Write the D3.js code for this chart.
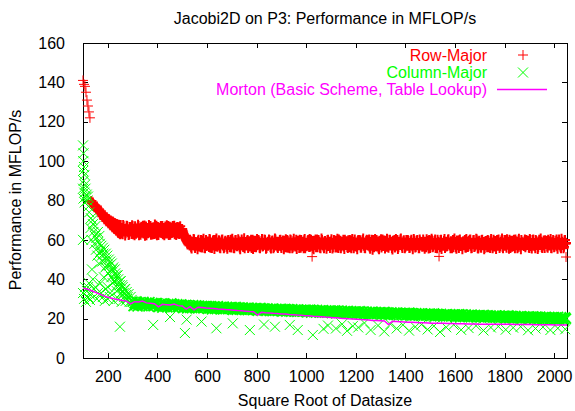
<!DOCTYPE html>
<html><head><meta charset="utf-8">
<script src="https://cdn.jsdelivr.net/npm/d3@7"></script>
<style>
body{margin:0;background:#fff}
svg{display:block}
text{font-family:"Liberation Sans",Arial,Helvetica,sans-serif}
</style>
</head><body>
<svg id="c" width="575" height="411"></svg>
<script>
// ---------------- data ----------------
const titleText = "Jacobi2D on P3: Performance in MFLOP/s";
const xLabel = "Square Root of Datasize";
const yLabel = "Performance in MFLOP/s";
const seriesNames = ["Row-Major", "Column-Major", "Morton (Basic Scheme, Table Lookup)"];
const xTicks = [200,400,600,800,1000,1200,1400,1600,1800,2000];
const yTicks = [0,20,40,60,80,100,120,140,160];

// problem sizes for the point series: 100, 104, ... 2048
const sizeStart = 100, sizeStep = 4;

const rowMajor = [
141,139,138,135,131,128,125,122,
79.5,78.8,79.0,77.8,77.6,76.5,76.9,75.2,75.6,74.1,74.5,72.8,73.2,71.2,72.3,70.4,71.5,69.2,70.6,68.0,69.8,67.1,69.3,66.0,68.6,65.2,68.1,64.0,67.7,63.1,
67.5,64.5,62.8,66.9,65.1,63.4,67.2,64.2,62.5,66.5,65.6,63.0,67.0,64.8,62.4,66.2,65.3,63.6,67.1,64.0,62.6,66.7,65.0,63.2,67.3,64.6,62.3,66.0,65.4,63.8,67.0,64.3,62.7,66.4,65.7,63.1,67.2,64.9,62.5,66.1,65.2,63.5,67.1,64.1,62.4,66.8,65.5,63.3,67.0,64.7,62.6,66.3,65.0,63.7,67.2,64.4,62.5,66.6,65.3,63.0,66.9,64.5,
65.5,63.8,62.4,61.2,60.0,59.0,58.2,
58.2,60.1,56.3,59.0,57.4,60.2,55.9,58.8,57.0,59.6,56.6,58.0,60.0,56.1,59.3,57.7,55.8,59.9,57.2,58.5,
56.4,60.2,58.1,55.9,59.4,57.5,60.0,56.8,58.7,57.1,59.8,56.0,58.4,60.1,57.3,55.8,59.1,57.9,56.5,59.7,
58.0,56.2,60.1,57.6,59.2,55.9,58.6,60.0,56.7,57.8,59.5,56.1,58.3,60.2,57.0,59.0,55.8,58.9,57.4,60.0,
56.9,59.3,57.7,55.9,60.1,58.2,56.4,59.6,57.1,58.8,60.0,56.0,57.9,59.4,56.6,58.5,60.2,57.3,55.9,59.0,
57.8,60.0,56.2,58.6,59.7,55.8,57.5,60.2,58.3,56.5,59.1,57.0,60.1,55.9,58.9,57.6,59.5,56.3,58.1,60.0,
56.0,58.7,60.2,57.2,55.8,59.3,58.0,56.6,60.1,57.7,59.0,55.9,58.4,60.0,56.8,57.4,59.8,55.8,58.6,57.1,
59.9,56.4,58.2,60.1,57.0,55.9,59.5,58.8,56.2,60.2,57.6,59.1,56.0,58.3,60.0,57.3,55.8,59.4,58.0,56.7,
60.1,57.5,55.9,59.2,58.4,56.3,60.0,57.9,59.6,56.1,58.7,60.2,57.1,55.8,59.0,58.2,56.6,60.1,57.4,59.3,
55.9,58.5,60.0,56.9,59.7,57.2,55.8,60.2,58.1,56.4,59.4,57.8,60.0,56.0,58.8,59.9,57.0,55.9,58.3,60.1,
57.3,59.8,56.2,58.9,60.1,55.0,57.7,59.2,56.8,60.0,58.4,55.8,59.6,57.5,56.1,60.2,58.0,57.1,59.5,56.5,
58.6,56.0,60.1,57.9,59.1,55.1,58.3,60.0,56.7,57.4,59.9,56.2,58.9,60.2,57.6,55.9,59.3,58.1,56.4,60.0,
57.0,59.5,55.9,58.2,60.1,56.8,57.9,59.7,56.1,58.6,60.0,57.3,55.8,59.2,58.4,56.5,60.2,57.7,59.0,56.2,
59.4,57.2,60.0,55.9,58.7,59.8,56.6,57.5,60.2,58.0,55.8,59.1,57.8,56.3,60.1,58.5,57.0,59.6,55.9,58.2,
56.7,60.1,58.4,57.1,59.3,55.8,60.0,57.6,58.9,56.2,59.7,57.4,55.9,60.2,58.1,56.9,59.0,57.3,60.0,56.0,
58.8,56.4,59.5,60.1,57.0,55.9,58.3,59.9,56.6,57.8,60.2,55.8,59.2,58.0,56.1,60.0,57.5,58.6,55.9,59.4,
57.9,60.0,56.3,58.5,59.6,57.2,55.8,60.1,58.2,56.8,59.3,57.0,60.2,55.9,58.7,59.8,56.5,57.6,60.0,58.1,
56.0,59.0,57.7,60.1,55.9,58.4,59.5,56.7,57.3,60.2,58.9,55.8,59.7,57.1,56.4,60.0,58.3,57.8,59.2,56.2,
60.0,57.4,58.6,55.9,59.9,56.9,58.0,60.2,57.0,55.8,59.4,58.7,56.3,60.1,57.6,59.1,55.9,58.5,57.2,59.8,
58.1,56.6,60.1,57.5,59.3,55.9,58.8,60.0,56.2,57.9,59.6,56.8,58.4,60.2,57.1,55.8,59.0,58.2,56.5,60.0,
58.4
];
// interleaved Row-Major sizes 134, 138, ... 2046
const rowMajor2Start = 134;
const rowMajor2 = [
79.8,78.6,78.2,77.0,77.3,75.8,76.2,74.6,75.0,73.4,73.8,72.0,72.6,70.6,71.8,69.6,70.9,68.4,70.2,67.4,69.5,66.4,68.9,65.5,68.3,64.6,67.9,63.5,67.6,62.8,
66.0,63.3,67.6,64.9,62.2,65.8,67.0,63.9,62.7,66.6,64.3,67.4,62.9,65.5,66.9,63.1,64.6,67.7,62.4,65.9,
66.3,63.6,67.2,64.0,62.1,66.8,65.1,63.4,67.5,64.7,62.6,66.1,65.6,63.0,67.8,64.2,62.3,66.5,65.3,63.8,
67.1,64.5,62.8,66.0,65.0,63.2,67.4,64.8,62.5,66.7,65.4,63.5,67.0,64.1,62.9,66.2,65.7,63.3,66.4,64.4,
63.9,62.9,
64.6,63.0,61.8,60.6,59.4,58.6,57.6,
57.1,59.4,55.6,58.3,60.5,56.7,58.9,57.5,55.3,60.1,58.0,56.2,59.7,57.8,60.6,55.9,58.5,56.9,59.2,57.3,
60.4,56.0,58.7,57.2,59.9,55.4,58.1,60.7,56.5,57.6,59.3,55.8,58.4,60.2,57.0,56.3,59.6,58.8,55.5,60.0,
57.4,59.1,56.1,60.6,58.2,55.7,59.8,57.7,56.8,60.3,58.6,55.2,59.0,57.9,56.4,60.8,58.3,57.1,59.5,55.9,
58.9,56.6,60.1,57.3,55.4,59.6,58.0,56.2,60.5,57.5,59.2,55.8,58.6,60.4,56.9,57.8,59.9,55.5,58.4,57.0,
60.2,57.6,55.6,59.3,58.1,56.4,60.7,57.2,59.0,55.9,58.7,60.0,56.7,57.4,59.7,55.3,58.2,60.3,56.1,59.4,
57.9,55.7,59.8,58.5,56.3,60.6,57.1,58.8,55.4,59.5,57.7,60.1,56.0,58.3,59.1,55.8,60.4,57.3,56.8,59.6,
58.0,60.5,56.5,57.6,59.4,55.2,58.9,60.2,57.0,56.2,59.9,58.4,55.7,60.7,57.8,56.6,59.2,58.1,55.5,60.0,
56.9,59.0,57.5,60.3,55.6,58.6,59.7,56.1,57.9,60.6,55.9,58.2,59.5,56.7,57.3,60.1,55.4,58.8,59.3,56.4,
59.8,56.2,58.3,55.7,60.4,57.4,59.1,56.8,58.7,55.3,60.0,57.6,59.6,56.0,58.5,60.7,57.2,55.8,59.4,58.0,
57.7,60.2,55.5,58.9,57.0,59.9,56.3,60.5,58.1,56.6,59.2,55.2,57.5,60.3,58.6,56.9,59.7,55.6,58.4,60.6,
56.5,58.0,60.1,57.3,55.9,59.5,58.8,56.1,60.4,57.8,55.4,59.0,58.2,60.7,56.7,57.6,59.8,55.7,58.5,57.1,
60.0,57.4,56.0,59.3,58.6,55.3,60.5,57.9,56.4,59.6,58.1,55.8,60.2,57.2,58.9,56.6,59.1,55.5,57.7,60.3,
58.3,55.6,59.7,57.5,60.6,56.2,58.0,59.4,55.9,57.1,60.1,58.7,56.8,59.9,55.4,58.4,57.3,60.4,56.5,59.0,
57.0,60.3,58.5,55.7,59.2,57.8,56.3,60.7,58.1,55.5,59.6,57.4,60.0,56.9,58.8,55.2,59.3,57.6,56.1,60.5,
59.1,56.7,57.9,60.2,55.8,58.6,59.8,56.4,57.2,60.6,58.3,55.6,59.5,57.7,56.0,60.1,58.9,55.3,59.0,57.5,
56.2,59.7,58.1,55.9,60.4,57.3,58.7,56.6,59.4,55.4,60.0,57.8,58.4,56.8,59.1,60.7,55.7,58.2,57.0,59.9,
60.3,57.6,55.5,58.8,59.6,56.5,57.4,60.1,55.8,59.3,58.0,56.3,60.6,57.9,55.2,59.0,58.5,56.9,60.2,57.1,
57.8,59.5,56.1,60.4,58.3,55.6,59.9,57.2,56.7,60.0,58.6,55.4,59.2,57.5,60.7,56.4,58.1,59.7,55.9,58.9,
59.4,56.0,58.7,57.1,60.5,55.8,58.2,59.6,56.6,57.7,60.2,55.5,59.0,58.4,56.3,60.6,57.4,55.7,59.8,58.0
];
const rowOutX = [1024, 1536, 2048];
const rowOutY = [51.5, 51.6, 51.3];

const colMajor = [
33,30,36,28.5,34,31,38,29.5,
71,45,68,35,62,55,30,64,48,58,33,52,56,41,29,53,47,36,50,31,44,48,38,29,45,40,34,42,30,37,39,28.5,36,33,35,29,33.5,31,32.5,28.5,31,29.5,
28.6,26.4,27.9,26.9,28.8,26.2,27.4,28.3,26.7,27.8,26.3,28.5,27.1,26.5,28.1,27.6,26.2,28.4,26.9,27.3,28.0,26.4,27.7,26.8,27.9,
27.9,25.8,27.2,26.4,27.6,25.6,26.9,27.8,26.1,27.0,25.7,27.5,26.6,26.0,27.7,26.3,25.8,27.4,26.5,26.9,27.3,25.9,27.0,26.2,27.2,
26.9,25.3,26.6,25.8,27.0,25.2,26.2,26.8,25.5,26.4,25.3,26.9,25.9,25.4,26.7,26.0,25.2,26.6,25.7,26.1,26.5,25.3,26.3,25.6,26.4,
26.3,24.9,26.0,25.2,26.4,24.7,25.6,26.2,25.0,25.8,24.8,26.3,25.4,24.9,26.0,25.5,24.7,26.1,25.1,25.5,25.9,24.8,25.7,25.0,25.8,
25.8,24.5,25.5,24.7,25.9,24.4,25.1,25.7,24.6,25.3,24.4,25.7,24.9,24.5,25.5,25.0,24.3,25.6,24.7,25.0,25.4,24.3,25.2,24.6,25.3,
25.3,24.0,25.0,24.3,25.4,23.9,24.6,25.2,24.1,24.8,23.9,25.2,24.4,24.0,25.0,24.5,23.8,25.1,24.2,24.5,24.9,23.9,24.7,24.1,24.8,
24.9,23.6,24.6,23.9,25.0,23.5,24.2,24.8,23.7,24.4,23.5,24.8,24.0,23.6,24.6,24.1,23.4,24.7,23.8,24.1,24.5,23.5,24.3,23.7,24.4,
24.5,23.2,24.2,23.5,24.6,23.1,23.8,24.4,23.3,24.0,23.1,24.4,23.6,23.2,24.2,23.7,23.0,24.3,23.4,23.7,24.1,23.1,23.9,23.3,24.0,
24.1,22.8,23.8,23.1,24.2,22.7,23.4,24.0,22.9,23.6,22.7,24.0,23.2,22.8,23.8,23.3,22.6,23.9,23.0,23.3,23.7,22.7,23.5,22.9,23.6,
23.7,22.4,23.4,22.7,23.8,22.3,23.0,23.6,22.5,23.2,22.3,23.6,22.8,22.4,23.4,22.9,22.2,23.5,22.6,22.9,23.3,22.3,23.1,22.5,23.2,
23.3,22.0,23.0,22.3,23.4,21.9,22.6,23.2,22.1,22.8,21.9,23.2,22.4,22.0,23.0,22.5,21.8,23.1,22.2,22.5,22.9,21.9,22.7,22.1,22.8,
22.9,21.6,22.6,21.9,23.0,21.5,22.2,22.8,21.7,22.4,21.5,22.8,22.0,21.6,22.6,22.1,21.4,22.7,21.8,22.1,22.5,21.5,22.3,21.7,22.4,
22.5,21.3,22.2,21.6,22.6,21.2,21.9,22.4,21.4,22.1,21.2,22.4,21.7,21.3,22.2,21.8,21.1,22.3,21.5,21.8,22.1,21.2,21.9,21.4,22.0,
22.2,20.9,21.9,21.2,22.3,20.8,21.5,22.1,21.0,21.7,20.8,22.1,21.3,20.9,21.9,21.4,20.7,22.0,21.1,21.4,21.8,20.8,21.6,21.0,21.7,
21.8,20.6,21.5,20.9,21.9,20.5,21.2,21.7,20.7,21.4,20.5,21.7,21.0,20.6,21.5,21.1,20.4,21.6,20.8,21.1,21.4,20.5,21.2,20.7,21.3,
21.5,20.2,21.2,20.5,21.6,20.1,20.8,21.4,20.3,21.0,20.1,21.4,20.6,20.2,21.2,20.7,20.0,21.3,20.4,20.7,21.1,20.1,20.9,20.3,21.0,
21.1,19.9,20.8,20.2,21.2,19.8,20.5,21.0,20.0,20.7,19.8,21.0,20.3,19.9,20.8,20.4,19.7,20.9,20.1,20.4,20.7,19.8,20.5,20.0,20.6,
20.8,19.6,20.5,19.9,20.9,19.5,20.2,20.7,19.7,20.4,19.6,20.6,20.0
];
// additional Column-Major measurements (repeated sizes near the start)
const colExtraX = [100,102,101,104,100,106,103,108,100,105,110,112,102,115,118,107,120,100,122,125,
130,134,138,142,146,150,154,158,162,166,170,174,178,182,186,190,194,198,202,206,210,214,218,222,226,230,234,238,242,246,250,254,258,262,266,270,274,278,
140,150,160,170,180,190,200,210,130,120];
const colExtraY = [108,104,100,97,95,93,90,88,86,84,86,82,81,83,80,79,82,60,77,74,
66,60,70,64,58,67,61,52,59,62,54,57,49,53,55,46,50,52,43,47,49,41,45,46,39,43,42,37,40,35,39,33,37,34,31,35,32,30,
40,36,33,38,31,35,30,33,32,36];
// lower Column-Major measurements
const colLowX = [249,383,451,511,518,578,638,704,773,830,874,934,966,1027,1070,1088,1120,1145,1165,1188,
1210,1235,1260,1290,1315,1340,1365,1390,1415,1440,1465,1490,1515,1540,1565,1595,1625,1655,1685,1715,1745,1775,1805,1835,1865,1895,1925,1955,1985,2015,2045];
const colLowY = [15.9,16.8,20.8,12.7,19.5,18.5,15.1,17.6,14.2,17,15.9,16.8,14.2,11.7,14.8,16.5,15,17.2,13.8,16.2,
15.5,17.8,14.2,16.5,13.5,17.2,15.0,16.8,13.9,15.8,17.0,14.5,16.2,13.2,15.6,16.9,14.3,15.2,16.4,14.0,15.5,16.0,14.4,15.4,15.9,14.1,15.0,15.7,14.2,15.1,14.6];

// Morton line, sizes 100, 116, ... 2052
const mortonStart = 100, mortonStep = 16;
const morton = [
35.5,35.0,34.3,33.5,32.6,31.8,31.0,30.5,30.0,29.6,29.2,28.9,27.5,28.6,28.4,28.9,28.0,27.8,27.6,26.0,
27.3,27.1,26.9,27.4,26.6,26.4,24.8,26.1,24.5,25.8,25.6,25.4,25.3,25.1,24.9,24.8,24.6,24.5,24.3,24.1,
24.0,23.8,23.6,23.5,21.8,23.2,23.0,22.9,22.7,22.6,22.4,22.3,22.1,22.0,21.8,21.7,21.5,21.4,21.2,21.1,
21.0,20.8,20.7,20.5,20.4,20.2,20.1,19.9,19.8,19.7,19.5,19.4,19.3,19.1,19.0,18.9,18.8,17.0,18.6,18.5,
18.4,18.3,18.2,18.1,18.0,17.9,17.9,17.8,17.7,17.7,17.6,17.6,17.5,17.5,17.4,17.4,17.4,17.3,17.3,17.3,
17.2,17.2,17.2,17.2,17.1,17.1,17.1,17.1,17.1,17.0,17.0,17.0,17.0,17.0,16.9,16.9,16.9,16.9,16.9,16.8,
16.8,16.8,16.8
];

// ---------------- drawing ----------------
const colors = {row:"#ff0000", col:"#00ff00", mor:"#ff00ff"};
const svg = d3.select("#c");
const xs = d3.scaleLinear().domain([100, 2052]).range([83, 567]);
const ys = d3.scaleLinear().domain([0, 160]).range([358, 43]);
const FS = 16;

const rowAll = rowMajor.map((v,i)=>[sizeStart+i*sizeStep, v]);
const rowSparse = rowAll.slice(0,8).concat(rowOutX.map((s,i)=>[s,rowOutY[i]]));
const rowBand = rowAll.slice(8).concat(rowMajor2.map((v,i)=>[rowMajor2Start+i*sizeStep, v]));
const colAll = colMajor.map((v,i)=>[sizeStart+i*sizeStep, v]);
const colSparse = colAll.slice(0,50)
  .concat(colExtraX.map((s,i)=>[s,colExtraY[i]]))
  .concat(colLowX.map((s,i)=>[s,colLowY[i]]));
const colBand = colAll.slice(50);
const morPts = morton.map((v,i)=>[mortonStart+i*mortonStep, v]);

const PS = 5, XS = 5;
const plusM = (px,py)=>`M${px-PS},${py}h${2*PS}M${px},${py-PS}v${2*PS}`;
const crossM = (px,py)=>`M${px-XS},${py-XS}l${2*XS},${2*XS}M${px-XS},${py+XS}l${2*XS},${-2*XS}`;

// axes
const gAx = svg.append("g").attr("font-size", FS);
gAx.append("g").attr("transform","translate(0,358)")
  .call(d3.axisBottom(xs).tickValues(xTicks).tickSize(-5).tickPadding(13).tickFormat(d3.format("d")));
gAx.append("g").attr("transform","translate(0,43)")
  .call(d3.axisTop(xs).tickValues(xTicks).tickSize(-5).tickFormat(""));
gAx.append("g").attr("transform","translate(83,0)")
  .call(d3.axisLeft(ys).tickValues(yTicks).tickSize(-5).tickPadding(18).tickFormat(d3.format("d")));
gAx.append("g").attr("transform","translate(567,0)")
  .call(d3.axisRight(ys).tickValues(yTicks).tickSize(-5).tickFormat(""));
gAx.selectAll(".domain").remove();
gAx.selectAll(".tick line").attr("stroke","#000").attr("shape-rendering","crispEdges");
gAx.selectAll(".tick text").attr("fill","#000").attr("font-family","Liberation Sans, Arial, sans-serif").attr("font-size",FS);

svg.append("rect").attr("x",xs(100)).attr("y",ys(160))
  .attr("width",xs(2052)-xs(100)).attr("height",ys(0)-ys(160))
  .attr("fill","none").attr("stroke","#000").attr("shape-rendering","crispEdges");

// series
const drawMarks = (pts, fn, col, w) => svg.append("path")
  .attr("d", pts.map(p=>fn(xs(p[0]),ys(p[1]))).join(""))
  .attr("fill","none").attr("stroke",col).attr("stroke-width",w);
drawMarks(rowBand, plusM, colors.row, 2);
drawMarks(rowSparse, plusM, colors.row, 1);
drawMarks(colBand, crossM, colors.col, 1.8);
drawMarks(colSparse, crossM, colors.col, 1);
svg.append("path").datum(morPts)
  .attr("d", d3.line().x(p=>xs(p[0])).y(p=>ys(p[1])))
  .attr("fill","none").attr("stroke",colors.mor).attr("stroke-width",1.5);

// legend
const leg = svg.append("g").attr("font-size",FS);
const legY = [55, 72.5, 89.5];
const legCols = [colors.row, colors.col, colors.mor];
seriesNames.forEach((n,i)=>{
  leg.append("text").attr("x",487).attr("y",legY[i]).attr("text-anchor","end")
    .attr("dominant-baseline","central").attr("fill",legCols[i]).text(n);
});
leg.append("path").attr("d", plusM(523, legY[0])).attr("stroke",colors.row).attr("fill","none");
leg.append("path").attr("d", crossM(523, legY[1])).attr("stroke",colors.col).attr("fill","none");
leg.append("line").attr("x1",497).attr("x2",547).attr("y1",legY[2]).attr("y2",legY[2])
  .attr("stroke",colors.mor).attr("stroke-width",1.5);

// titles
svg.append("text").attr("x",325).attr("y",18).attr("text-anchor","middle")
  .attr("dominant-baseline","central").attr("font-size",FS).text(titleText);
svg.append("text").attr("x",325).attr("y",400).attr("text-anchor","middle")
  .attr("dominant-baseline","central").attr("font-size",FS).text(xLabel);
svg.append("text").attr("transform","translate(15,200) rotate(-90)").attr("text-anchor","middle")
  .attr("dominant-baseline","central").attr("font-size",FS).text(yLabel);
</script>
</body></html>
